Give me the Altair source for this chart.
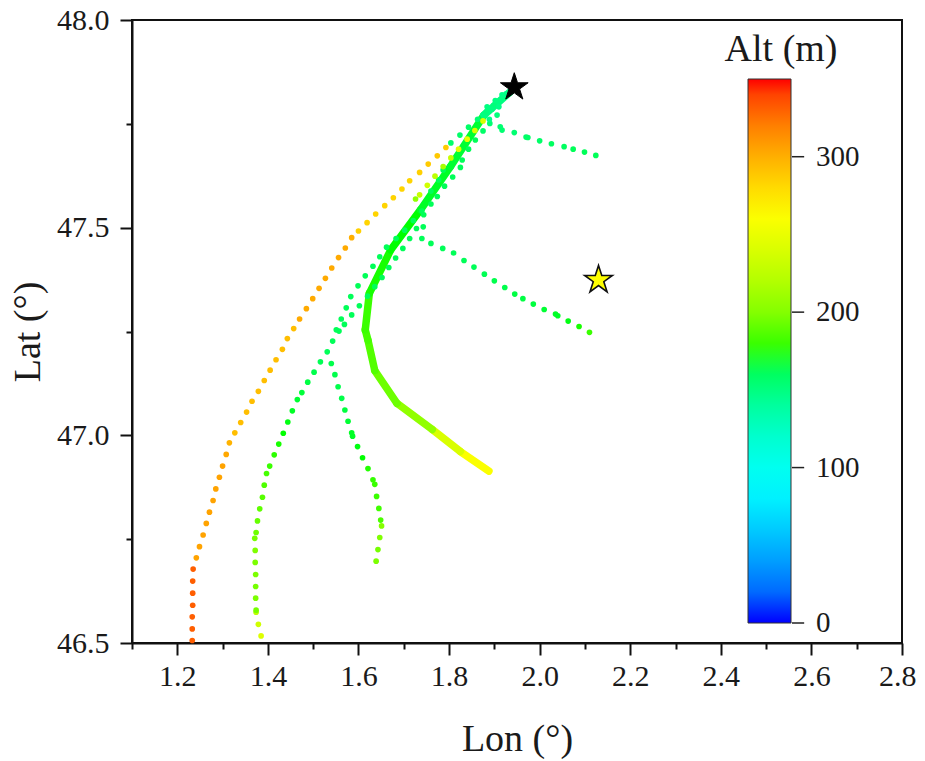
import math
import altair as alt
import pandas as pd

# Dotted flight tracks: (lon, lat, alt)
track_a = [
(1.233,46.506,332),(1.233,46.534,332),(1.233,46.563,332),(1.234,46.591,332),(1.234,46.620,332),(1.234,46.649,332),(1.235,46.678,332),
(1.242,46.705,305),(1.249,46.732,305),(1.257,46.760,305),(1.264,46.788,305),(1.271,46.815,305),(1.279,46.843,305),(1.285,46.871,305),
(1.293,46.899,305),(1.300,46.926,305),(1.308,46.954,303),(1.315,46.982,298),(1.327,47.006,293),(1.340,47.031,293),(1.353,47.056,293),
(1.365,47.082,293),(1.379,47.106,293),(1.392,47.132,293),(1.405,47.157,293),(1.418,47.182,293),(1.432,47.207,293),(1.443,47.233,293),
(1.457,47.257,293),(1.470,47.280,302),(1.485,47.305,302),(1.499,47.329,302),(1.513,47.354,302),(1.527,47.378,302),(1.541,47.403,302),
(1.556,47.428,302),(1.571,47.451,302),(1.585,47.476,300),(1.600,47.492,285),(1.619,47.512,283),(1.638,47.533,283),(1.658,47.553,283),
(1.677,47.572,283),(1.696,47.593,283),(1.713,47.613,283),(1.735,47.633,285),(1.754,47.653,287),(1.774,47.673,288),(1.793,47.693,287),
]
track_b = [
(1.385,46.517,242),(1.379,46.545,235),(1.374,46.574,225),(1.374,46.579,195),(1.373,46.608,197),(1.373,46.636,195),(1.373,46.665,197),
(1.372,46.694,197),(1.372,46.723,198),(1.371,46.752,195),(1.374,46.766,192),(1.377,46.794,190),(1.382,46.823,188),(1.388,46.851,186),
(1.392,46.880,184),(1.397,46.908,182),(1.404,46.926,180),(1.414,46.953,178),(1.424,46.979,176),(1.434,47.005,175),(1.444,47.032,174),
(1.454,47.059,172),(1.465,47.086,170),(1.475,47.103,169),(1.488,47.128,167),(1.502,47.152,165),(1.516,47.177,163),(1.531,47.201,162),
(1.543,47.227,162),(1.557,47.251,162),(1.562,47.280,162),(1.573,47.307,162),(1.583,47.334,162),(1.599,47.360,162),(1.615,47.384,162),
(1.632,47.407,162),(1.647,47.430,162),(1.662,47.453,162),(1.683,47.474,162),(1.702,47.494,162),(1.721,47.517,162),(1.740,47.540,162),
(1.760,47.588,162),(1.777,47.615,162),(1.787,47.639,162),(1.804,47.704,158),(1.824,47.723,158),(1.843,47.742,158),(1.863,47.761,155),
(1.882,47.779,152),(1.899,47.795,152),
]
track_c = [
(1.639,46.697,197),(1.643,46.725,195),(1.647,46.754,198),(1.651,46.782,200),(1.649,46.796,183),(1.645,46.824,181),(1.640,46.853,180),
(1.636,46.882,180),(1.632,46.893,179),(1.621,46.920,177),(1.609,46.946,175),(1.598,46.973,174),(1.587,46.998,172),(1.585,47.006,172),
(1.577,47.034,170),(1.570,47.061,168),(1.563,47.089,166),(1.555,47.117,165),(1.548,47.146,165),(1.540,47.173,165),(1.551,47.254,162),
(1.569,47.267,162),(1.585,47.290,162),(1.602,47.312,162),(1.620,47.335,162),(1.636,47.358,162),(1.652,47.380,162),(1.667,47.404,162),
(1.682,47.427,162),(1.698,47.450,162),(1.713,47.474,162),(1.728,47.498,162),(1.743,47.502,162),(1.744,47.531,162),(1.760,47.557,162),
(1.774,47.575,162),(1.790,47.600,162),(1.808,47.622,162),(1.825,47.645,162),(1.829,47.663,162),(1.843,47.689,162),(1.858,47.711,162),
(1.875,47.733,158),(1.890,47.751,155),(1.906,47.771,152),
]
track_d = [
(2.110,47.248,180),(2.087,47.262,176),(2.063,47.275,174),(2.040,47.288,172),(2.035,47.292,172),(2.010,47.303,170),(1.986,47.316,168),
(1.963,47.329,167),(1.945,47.340,167),(1.923,47.356,165),(1.900,47.372,165),(1.878,47.388,163),(1.855,47.405,162),(1.833,47.421,162),
(1.810,47.439,162),(1.786,47.450,162),(1.760,47.462,162),(1.740,47.474,162),
]
track_e = [
(2.124,47.674,162),(2.099,47.682,162),(2.074,47.689,162),(2.054,47.695,160),(2.026,47.702,160),(2.000,47.709,158),(1.974,47.717,158),
(1.970,47.718,158),(1.944,47.729,155),(1.917,47.735,155),(1.913,47.743,155),(1.889,47.761,148),(1.910,47.791,148),
]
track_f = [
(1.726,47.569,205),(1.735,47.579,230),(1.752,47.602,235),(1.769,47.624,225),(1.787,47.647,215),(1.804,47.668,230),(1.821,47.689,245),
(1.840,47.713,250),(1.857,47.734,240),(1.875,47.757,240),
]
track_g = [
(1.884,47.791,150),(1.895,47.785,150),(1.902,47.806,150),(1.913,47.807,150),(1.917,47.820,148),(1.926,47.822,148),
]
# Solid (thick) track vertices
thick_lon = [1.888,1.825,1.763,1.685,1.636,1.621,1.615,1.624,1.671,1.737,1.803,1.877,1.935]
thick_lat = [46.914,46.961,47.014,47.077,47.156,47.229,47.254,47.342,47.446,47.543,47.647,47.771,47.827]
thick_alt = [260,240,205,192,185,182,180,176,175,172,170,150,140]
# Stars
star_black = {"lon":1.944,"lat":47.838}
star_yellow = {"lon":2.13,"lat":47.374}
# Colour bar
cbar_ticks = [0,100,200,300]
cbar_tick_start = 2.557
cbar_tick_end = 2.584
title_pos = {"lon":2.533,"lat":47.928,"text":"Alt (m)"}

FONT = "Liberation Serif"
INK = "#1a1a1a"

dots = pd.DataFrame(track_a+track_b+track_c+track_d+track_e+track_f+track_g, columns=["lon","lat","alt"])
thick = pd.DataFrame({"lon":thick_lon[:-1],"lat":thick_lat[:-1],"lon2":thick_lon[1:],"lat2":thick_lat[1:],"alt":thick_alt[:-1]})

color_scale = alt.Scale(domain=[-0.01,87.5,175,262.5,350], range=["#0000ff","#00ffff","#00ff00","#ffff00","#ff0000"])
x_scale = alt.Scale(domain=[1.1,2.8], nice=False, zero=False)
y_scale = alt.Scale(domain=[46.5,48.0], nice=False, zero=False)

x_axis = alt.Axis(
    values=[round(1.1+0.1*i,1) for i in range(18)], title="Lon (°)", grid=False,
    tickSize={"condition":{"test":"round(datum.value*10)%2==0","value":12},"value":6},
    labelExpr="round(datum.value*10)%2==0 ? format(datum.value,'.1f') : ''",
    labelFontSize=30, titleFontSize=38, labelPadding=6, titlePadding=29, labelFlush=True, labelFlushOffset=14,
    labelOverlap=False,
)
y_axis = alt.Axis(
    values=[46.5,46.75,47.0,47.25,47.5,47.75,48.0], title="Lat (°)", grid=False,
    tickSize={"condition":{"test":"round(datum.value*100)%50==0","value":12},"value":6},
    labelExpr="round(datum.value*100)%50==0 ? format(datum.value,'.1f') : ''",
    labelFontSize=30, titleFontSize=38, labelPadding=11, titlePadding=9, labelOverlap=False,
)
legend = alt.Legend(
    type="gradient", title=None, orient="none", legendX=616, legendY=59, direction="vertical",
    gradientLength=544, gradientThickness=43, values=cbar_ticks, labelOffset=25,
    labelFont=FONT, labelFontSize=29, labelColor=INK, padding=0,
    gradientStrokeColor="#333333", gradientStrokeWidth=1)
X = alt.X("lon:Q", scale=x_scale, axis=x_axis)
Yn = alt.Y("lat:Q", scale=y_scale, axis=None)

base_axis = alt.Chart(pd.DataFrame({"lon":[1.1],"lat":[46.5]})).mark_point(opacity=0).encode(
    x=X, y=alt.Y("lat:Q", scale=y_scale, axis=y_axis))

rules = alt.Chart(thick).mark_rule(strokeWidth=7.5, strokeCap="round").encode(
    x=X, y=Yn, x2="lon2:Q", y2="lat2:Q", color=alt.Color("alt:Q", scale=color_scale, legend=None))

points = alt.Chart(dots).mark_circle(size=32, opacity=1).encode(
    x=X, y=Yn, color=alt.Color("alt:Q", scale=color_scale, legend=legend))

pts = [(math.sin(i*math.pi/5)*(1 if i%2==0 else 0.382), -math.cos(i*math.pi/5)*(1 if i%2==0 else 0.382)) for i in range(10)]
star_path = "M" + "L".join(f"{a:.4f},{b:.4f}" for a,b in pts) + "Z"

s1 = alt.Chart(pd.DataFrame([star_black])).mark_point(shape=star_path, size=850, filled=True, fill="#000000", stroke="#000000", strokeWidth=1, opacity=1).encode(x=X, y=Yn)
s2 = alt.Chart(pd.DataFrame([star_yellow])).mark_point(shape=star_path, size=850, filled=True, fill="#ffff00", stroke="#111111", strokeWidth=1.6, opacity=1).encode(x=X, y=Yn)

ticks = alt.Chart(pd.DataFrame({"v":cbar_ticks,"lon":[cbar_tick_start]*4,"lon2":[cbar_tick_end]*4})).mark_rule(color="#222222", strokeWidth=1.5).encode(
    x=X, x2="lon2:Q", y=alt.Y("v:Q", scale=alt.Scale(domain=[0,350], range=[603,59]), axis=None))

title = alt.Chart(pd.DataFrame([title_pos])).mark_text(font=FONT, fontSize=38, color=INK).encode(x=X, y=Yn, text="text:N")

chart = alt.layer(base_axis, rules, points, s1, s2, ticks, title).resolve_scale(y="independent", color="independent").properties(
    width=770, height=623, background="white", autosize=alt.AutoSizeParams(type="none"),
    padding={"left":124,"top":12,"right":15,"bottom":117}
).configure_view(stroke="#111111", strokeWidth=2).configure_axis(
    labelFont=FONT, titleFont=FONT, labelColor=INK, titleColor=INK, titleFontWeight="normal",
    domainColor="#111111", domainWidth=2, tickColor="#111111", tickWidth=2,
)

chart.save("out.html", embed_options={"renderer":"svg","actions":False})
